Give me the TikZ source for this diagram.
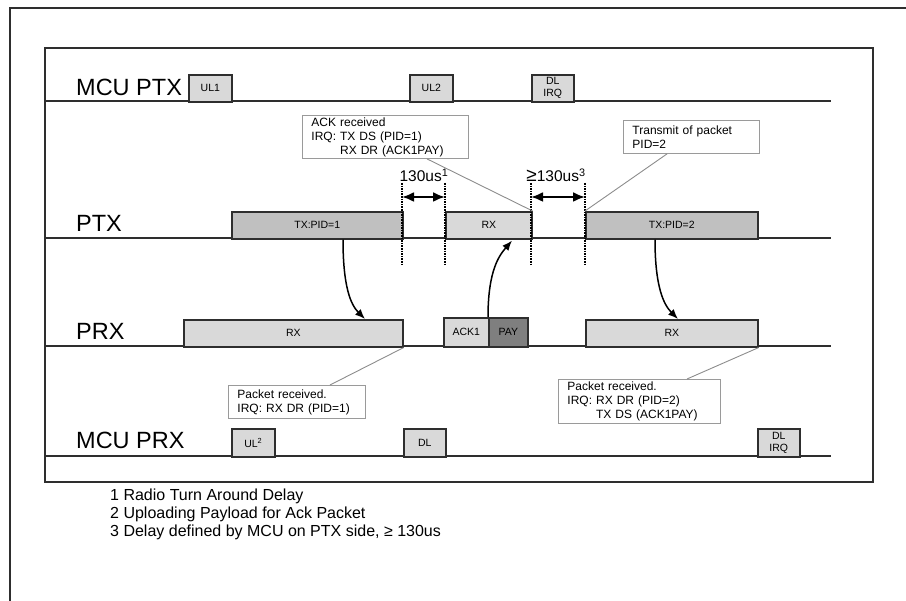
\documentclass[tikz,border=0pt]{standalone}
\usepackage{fontspec}
\setmainfont{Liberation Sans}
\usetikzlibrary{arrows.meta,calc}
\definecolor{lineC}{HTML}{2E2E2E}
\definecolor{boxlight}{HTML}{D9D9D9}
\definecolor{boxmid}{HTML}{C0C0C0}
\definecolor{boxdark}{HTML}{7F7F7F}
\definecolor{calloutC}{HTML}{9A9A9A}
\definecolor{leaderC}{HTML}{8C8C8C}
\begin{document}
\begin{tikzpicture}[x=1pt,y=-1pt,
  frame/.style={draw=lineC, line width=2.2pt},
  inframe/.style={draw=lineC, line width=1.7pt},
  tl/.style={draw=lineC, line width=1.9pt},
  box/.style={draw=lineC, line width=1.6pt, inner sep=0pt, anchor=north west, font=\fontsize{10.5}{12}\selectfont, align=center},
  lightbox/.style={box, fill=boxlight},
  midbox/.style={box, fill=boxmid},
  darkbox/.style={box, fill=boxdark},
  lane/.style={anchor=base west, inner sep=0pt, font=\fontsize{23.5}{26}\selectfont},
  callout/.style={draw=calloutC, line width=0.9pt, fill=white, anchor=north west, inner xsep=9pt, inner ysep=0pt, align=left, font=\fontsize{12}{14}\selectfont},
  leader/.style={draw=leaderC, line width=0.9pt},
  dotline/.style={line width=1.6pt, densely dotted},
  dbl/.style={line width=2.2pt, {Latex[length=12pt,width=10pt]}-{Latex[length=12pt,width=10pt]}},
  flow/.style={line width=1.5pt, -{Latex[length=10pt,width=8pt]}},
  delay/.style={anchor=base, inner sep=0pt, font=\fontsize{15.5}{17}\selectfont},
  foot/.style={anchor=base west, inner sep=0pt, font=\fontsize{16}{18}\selectfont},
]
\useasboundingbox (0,0) rectangle (906,601);
% frames
\draw[frame] (10,601) -- (10,8) -- (906,8);
\draw[inframe] (45,48) rectangle (873,482);
% timelines
\draw[tl] (45,101) -- (831,101);
\draw[tl] (45,238) -- (831,238);
\draw[tl] (45,346) -- (831,346);
\draw[tl] (45,456) -- (831,456);
% lane labels
\node[lane] (lmcuptx) at (76,96) {MCU PTX};
\node[lane] (lptx) at (76,232) {PTX};
\node[lane] (lprx) at (76,340) {PRX};
\node[lane] (lmcuprx) at (76,449) {MCU PRX};
% MCU PTX boxes
\node[lightbox, minimum width=43pt, minimum height=27pt] (ul1) at (188,74) {UL1};
\node[lightbox, minimum width=43pt, minimum height=27pt] (ul2) at (409,74) {UL2};
\node[lightbox, minimum width=42pt, minimum height=27pt] (dlirq1) at (531,74) {DL\\IRQ};
% PTX boxes
\node[midbox, minimum width=171pt, minimum height=27pt] (tx1) at (231,211) {TX:PID=1};
\node[lightbox, minimum width=86pt, minimum height=27pt] (rxp) at (445,211) {RX};
\node[midbox, minimum width=172pt, minimum height=27pt] (tx2) at (585,211) {TX:PID=2};
% PRX boxes
\node[lightbox, minimum width=219pt, minimum height=27pt] (prx1) at (183,319) {RX};
\node[lightbox, minimum width=45pt, minimum height=29pt] (ack) at (443,317) {ACK1};
\node[darkbox, minimum width=39pt, minimum height=29pt] (pay) at (488,317) {PAY};
\node[lightbox, minimum width=172pt, minimum height=27pt] (prx2) at (585,319) {RX};
% MCU PRX boxes
\node[lightbox, minimum width=43pt, minimum height=28pt] (ul2b) at (231,428) {UL\textsuperscript{2}};
\node[lightbox, minimum width=42pt, minimum height=28pt] (dl) at (403,428) {DL};
\node[lightbox, minimum width=42pt, minimum height=28pt] (dlirq2) at (757,428) {DL\\IRQ};
% dotted lines
\draw[dotline] (402,183) -- (402,265);
\draw[dotline] (445,183) -- (445,265);
\draw[dotline] (531,183) -- (531,265);
\draw[dotline] (585,183) -- (585,265);
% delay arrows
\draw[dbl] (402,197) -- (445,197);
\draw[dbl] (531,197) -- (585,197);
\node[delay] (d1) at (424,182) {130us\textsuperscript{1}};
\node[delay] (d3) at (556,182) {{\fontsize{19}{19}\selectfont ≥}130us\textsuperscript{3}};
% callouts
\node[callout, text width=148pt, minimum height=43pt] (ackc) at (302,115) {ACK received\\IRQ: TX DS (PID=1)\\\phantom{IRQ: }RX DR (ACK1PAY)};
\node[callout, text width=118pt, minimum height=33pt] (trc) at (623,120) {Transmit of packet\\PID=2};
\node[callout, text width=119pt, minimum height=33pt] (pr1c) at (228,385) {Packet received.\\IRQ: RX DR (PID=1)};
\node[callout, text width=144pt, minimum height=44pt] (pr2c) at (558,379) {Packet received.\\IRQ: RX DR (PID=2)\\\phantom{IRQ: }TX DS (ACK1PAY)};
\draw[leader] ($(ackc.south west)+(125,0)$) -- (rxp.north east);
\draw[leader] ($(trc.south west)+(44,0)$) -- (tx2.north west);
\draw[leader] ($(pr1c.north west)+(102,0)$) -- (prx1.south east);
\draw[leader] ($(pr2c.north west)+(129,0)$) -- (prx2.south east);
% flow arrows
\draw[flow] ($(tx1.south west)+(112,0)$) .. controls +(0,48) and +(-14,-14) .. ($(prx1.north west)+(182,0)$);
\draw[flow] (pay.north west) .. controls +(0,-48) and +(-12,14) .. ($(rxp.south west)+(67,1)$);
\draw[flow] ($(tx2.south west)+(70,0)$) .. controls +(0,48) and +(-14,-14) .. ($(prx2.north west)+(93,0)$);
% footnotes
\node[foot] (fn1) at (110,501) {1 Radio Turn Around Delay};
\node[foot] (fn2) at (110,519) {2 Uploading Payload for Ack Packet};
\node[foot] (fn3) at (110,537) {3 Delay defined by MCU on PTX side, ≥ 130us};
\end{tikzpicture}
\end{document}
